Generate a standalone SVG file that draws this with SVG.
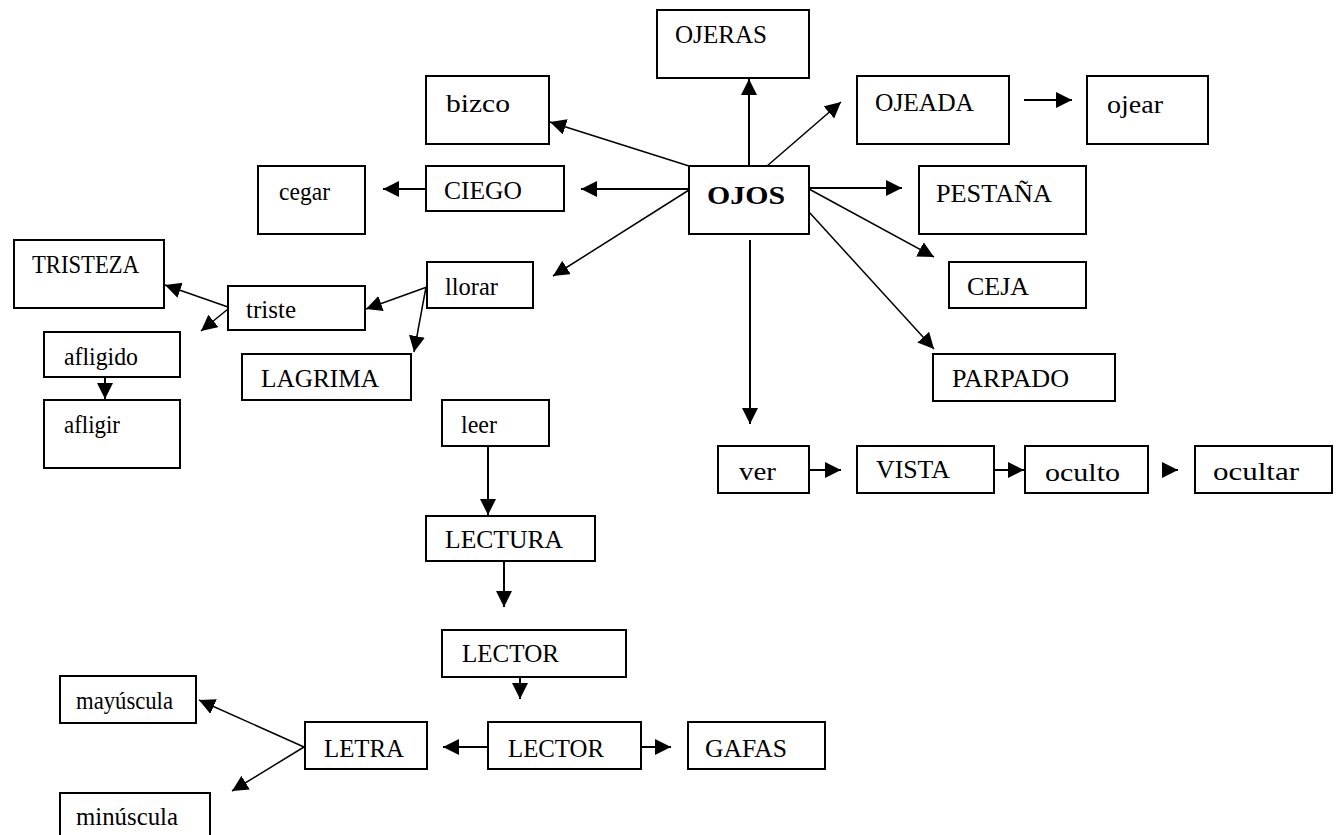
<svg xmlns="http://www.w3.org/2000/svg" width="1340" height="835" viewBox="0 0 1340 835">
<defs>
<style>
.box{fill:#fff;stroke:#000;stroke-width:2}
.t{font-family:"Liberation Serif","Times New Roman",serif;font-size:26px;fill:#000}
.l{font-size:25px}
.c{stroke:#000;stroke-width:2;fill:none;marker-end:url(#ah)}
.d{stroke:#000;stroke-width:1.5;fill:none;marker-end:url(#ah)}
</style>
<marker id="ah" markerUnits="userSpaceOnUse" markerWidth="17" markerHeight="17" refX="16" refY="8" orient="auto">
<path d="M0,0 L16,8 L0,16 z" fill="#000"/>
</marker>
</defs>
<rect width="1340" height="835" fill="#fff"/>
<g id="connectors">
<path class="c" d="M749,166 V79"/>
<path class="d" d="M689,166 L550,122"/>
<path class="c" d="M689,189 H581"/>
<path class="d" d="M767,166 L841,102"/>
<path class="c" d="M1024,100 H1072"/>
<path class="c" d="M426,189 H383"/>
<path class="c" d="M809,188 H902"/>
<path class="d" d="M689,190 L553,276"/>
<path class="d" d="M809,189 L934,257"/>
<path class="d" d="M809,212 L934,349"/>
<path class="c" d="M750,240 V424"/>
<path class="d" d="M427,287 L366,309"/>
<path class="d" d="M426,287 L414,352"/>
<path class="d" d="M228,307 L165,285"/>
<path class="d" d="M228,309 L201,331"/>
<path class="c" d="M105,377 V399"/>
<path class="c" d="M488,446 V515"/>
<path class="c" d="M504,561 V607"/>
<path class="c" d="M520,677 V699"/>
<path class="c" d="M809,470 H841"/>
<path class="c" d="M994,470 H1024"/>
<path class="c" d="M1162,470 H1178"/>
<path class="d" d="M304,747 L199,700"/>
<path class="d" d="M304,747 L232,791"/>
<path class="c" d="M488,747 H443"/>
<path class="c" d="M641,747 H671"/>
</g>
<g id="n-ojeras"><rect class="box" x="657" y="10" width="152" height="68"/><text class="t" x="675" y="43" textLength="92" lengthAdjust="spacingAndGlyphs">OJERAS</text></g>
<g id="n-bizco"><rect class="box" x="426" y="76" width="123" height="68"/><text class="t" x="446" y="112" font-size="28" textLength="64" lengthAdjust="spacingAndGlyphs">bizco</text></g>
<g id="n-ojeada"><rect class="box" x="857" y="76" width="152" height="68"/><text class="t" x="875" y="111" textLength="99" lengthAdjust="spacingAndGlyphs">OJEADA</text></g>
<g id="n-ojear"><rect class="box" x="1087" y="76" width="121" height="68"/><text class="t l" x="1107" y="113" textLength="56" lengthAdjust="spacingAndGlyphs">ojear</text></g>
<g id="n-cegar"><rect class="box" x="258" y="166" width="107" height="68"/><text class="t l" x="279" y="200" textLength="51" lengthAdjust="spacingAndGlyphs">cegar</text></g>
<g id="n-ciego"><rect class="box" x="426" y="166" width="138" height="45"/><text class="t" x="444" y="199" textLength="78" lengthAdjust="spacingAndGlyphs">CIEGO</text></g>
<g id="n-ojos"><rect class="box" x="689" y="166" width="120" height="68"/><text class="t" x="707" y="204" font-size="29" font-weight="bold" textLength="78" lengthAdjust="spacingAndGlyphs">OJOS</text></g>
<g id="n-pestana"><rect class="box" x="919" y="166" width="167" height="68"/><text class="t" x="936" y="202" textLength="116" lengthAdjust="spacingAndGlyphs">PESTAÑA</text></g>
<g id="n-tristeza"><rect class="box" x="14" y="240" width="150" height="68"/><text class="t" x="32" y="273" textLength="107" lengthAdjust="spacingAndGlyphs">TRISTEZA</text></g>
<g id="n-llorar"><rect class="box" x="427" y="262" width="106" height="46"/><text class="t l" x="445" y="295" textLength="53" lengthAdjust="spacingAndGlyphs">llorar</text></g>
<g id="n-triste"><rect class="box" x="228" y="286" width="137" height="44"/><text class="t l" x="246" y="318" textLength="50" lengthAdjust="spacingAndGlyphs">triste</text></g>
<g id="n-ceja"><rect class="box" x="949" y="262" width="137" height="46"/><text class="t" x="967" y="295" textLength="62" lengthAdjust="spacingAndGlyphs">CEJA</text></g>
<g id="n-afligido"><rect class="box" x="44" y="332" width="136" height="45"/><text class="t l" x="64" y="365" textLength="74" lengthAdjust="spacingAndGlyphs">afligido</text></g>
<g id="n-lagrima"><rect class="box" x="242" y="354" width="169" height="46"/><text class="t" x="261" y="387" textLength="118" lengthAdjust="spacingAndGlyphs">LAGRIMA</text></g>
<g id="n-parpado"><rect class="box" x="933" y="354" width="182" height="47"/><text class="t" x="952" y="387" textLength="117" lengthAdjust="spacingAndGlyphs">PARPADO</text></g>
<g id="n-afligir"><rect class="box" x="44" y="400" width="136" height="68"/><text class="t l" x="64" y="433" textLength="56" lengthAdjust="spacingAndGlyphs">afligir</text></g>
<g id="n-leer"><rect class="box" x="442" y="400" width="107" height="46"/><text class="t" x="461" y="433" font-size="22" textLength="36" lengthAdjust="spacingAndGlyphs">leer</text></g>
<g id="n-ver"><rect class="box" x="718" y="446" width="91" height="47"/><text class="t l" x="739" y="480" textLength="37" lengthAdjust="spacingAndGlyphs">ver</text></g>
<g id="n-vista"><rect class="box" x="857" y="446" width="137" height="47"/><text class="t" x="876" y="478" textLength="74" lengthAdjust="spacingAndGlyphs">VISTA</text></g>
<g id="n-oculto"><rect class="box" x="1025" y="446" width="123" height="47"/><text class="t l" x="1045" y="481" textLength="75" lengthAdjust="spacingAndGlyphs">oculto</text></g>
<g id="n-ocultar"><rect class="box" x="1195" y="446" width="137" height="47"/><text class="t l" x="1213" y="480" textLength="86" lengthAdjust="spacingAndGlyphs">ocultar</text></g>
<g id="n-lectura"><rect class="box" x="426" y="516" width="169" height="45"/><text class="t" x="445" y="548" textLength="118" lengthAdjust="spacingAndGlyphs">LECTURA</text></g>
<g id="n-lector1"><rect class="box" x="442" y="630" width="184" height="47"/><text class="t" x="462" y="662" textLength="97" lengthAdjust="spacingAndGlyphs">LECTOR</text></g>
<g id="n-mayuscula"><rect class="box" x="60" y="676" width="136" height="47"/><text class="t l" x="76" y="709" textLength="97" lengthAdjust="spacingAndGlyphs">mayúscula</text></g>
<g id="n-letra"><rect class="box" x="305" y="722" width="122" height="47"/><text class="t" x="324" y="757" textLength="80" lengthAdjust="spacingAndGlyphs">LETRA</text></g>
<g id="n-lector2"><rect class="box" x="488" y="722" width="153" height="47"/><text class="t" x="508" y="757" textLength="96" lengthAdjust="spacingAndGlyphs">LECTOR</text></g>
<g id="n-gafas"><rect class="box" x="688" y="722" width="137" height="47"/><text class="t" x="705" y="757" textLength="82" lengthAdjust="spacingAndGlyphs">GAFAS</text></g>
<g id="n-minuscula"><rect class="box" x="60" y="793" width="150" height="60"/><text class="t l" x="76" y="825" textLength="102" lengthAdjust="spacingAndGlyphs">minúscula</text></g>
</svg>
